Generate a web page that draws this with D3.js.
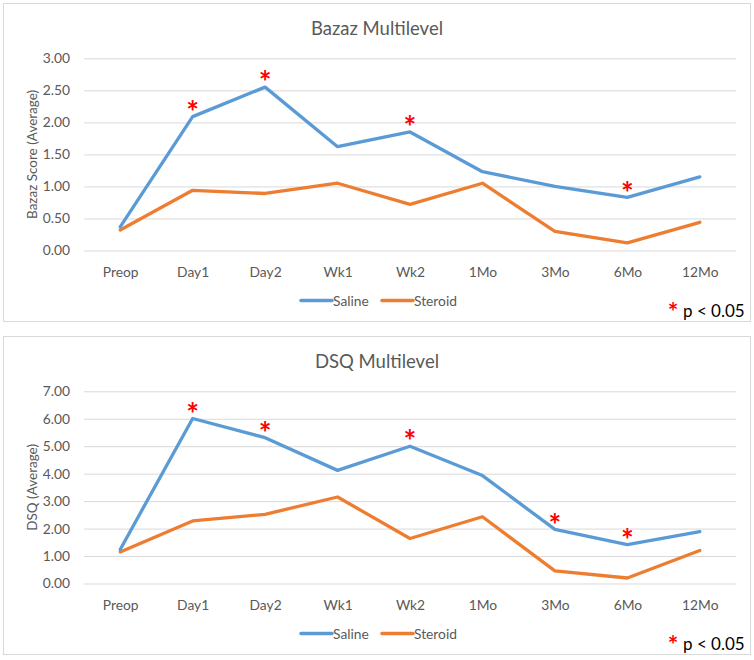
<!DOCTYPE html>
<html>
<head>
<meta charset="utf-8">
<script src="https://cdn.jsdelivr.net/npm/d3@7"></script>
<style>
  html, body { margin: 0; padding: 0; background: #fff; }
  svg { display: block; }
  text { font-family: Lato, "Open Sans", sans-serif; }
</style>
</head>
<body>
<svg id="chart" width="754" height="660"></svg>
<script>
// ---- data ----
const categories = ["Preop", "Day1", "Day2", "Wk1", "Wk2", "1Mo", "3Mo", "6Mo", "12Mo"];
const seriesNames = ["Saline", "Steroid"];

const bazazSaline  = [0.37, 2.09, 2.55, 1.62, 1.85, 1.23, 1.00, 0.83, 1.15];
const bazazSteroid = [0.32, 0.94, 0.89, 1.05, 0.72, 1.05, 0.30, 0.12, 0.44];
const bazazSig = ["Day1", "Day2", "Wk2", "6Mo"];
const bazazTicks = [0, 0.5, 1, 1.5, 2, 2.5, 3];

const dsqSaline  = [1.24, 6.01, 5.31, 4.12, 5.00, 3.93, 1.97, 1.42, 1.89];
const dsqSteroid = [1.15, 2.28, 2.52, 3.15, 1.64, 2.43, 0.46, 0.20, 1.20];
const dsqSig = ["Day1", "Day2", "Wk2", "3Mo", "6Mo"];
const dsqTicks = [0, 1, 2, 3, 4, 5, 6, 7];

const colors = { Saline: "#5b9bd5", Steroid: "#ed7d31" };

const panels = [
  { top: 3,   title: "Bazaz Multilevel", yTitle: "Bazaz Score (Average)", saline: bazazSaline, steroid: bazazSteroid, sig: bazazSig, ticks: bazazTicks },
  { top: 336, title: "DSQ Multilevel",   yTitle: "DSQ (Average)",         saline: dsqSaline,   steroid: dsqSteroid,   sig: dsqSig,   ticks: dsqTicks }
];

const svg = d3.select("#chart");
const textColor = "#595959";
const labelSize = 13.8;

panels.forEach(p => {
  const g = svg.append("g").attr("transform", `translate(0,${p.top})`);

  // panel border
  g.append("rect")
    .attr("x", 3.5).attr("y", 0.5)
    .attr("width", 747).attr("height", 318)
    .attr("fill", "#fff").attr("stroke", "#d9d9d9").attr("stroke-width", 1);

  // title
  g.append("text")
    .attr("x", 377).attr("y", 25)
    .attr("text-anchor", "middle").attr("dominant-baseline", "central")
    .attr("fill", textColor).attr("font-size", 18.5)
    .text(p.title);

  const x = d3.scalePoint().domain(categories).range([84, 736]).padding(0.5);
  const yMax = p.ticks[p.ticks.length - 1];
  const y = d3.scaleLinear().domain([0, yMax]).range([247.5, 55.3]);

  // gridlines + y tick labels via axis
  const yAxis = d3.axisLeft(y).tickValues(p.ticks).tickFormat(d3.format(".2f")).tickSize(-652).tickPadding(14);
  const ya = g.append("g").attr("transform", "translate(84,0)").call(yAxis);
  ya.select(".domain").remove();
  ya.selectAll(".tick line").attr("stroke", "#d9d9d9").attr("stroke-width", 1);
  ya.selectAll(".tick text").attr("fill", textColor).attr("font-size", labelSize)
    .attr("font-family", "Lato, sans-serif").attr("x", -14);

  // x axis labels
  const xAxis = d3.axisBottom(x).tickSize(0).tickPadding(0);
  const xa = g.append("g").attr("transform", "translate(0,268.7)").call(xAxis);
  xa.select(".domain").remove();
  xa.selectAll(".tick text").attr("fill", textColor).attr("font-size", labelSize)
    .attr("font-family", "Lato, sans-serif").attr("dy", "0.35em").attr("y", 0);

  // y axis title
  g.append("text")
    .attr("transform", `translate(32,${(55.3 + 247.5) / 2}) rotate(-90)`)
    .attr("text-anchor", "middle").attr("dominant-baseline", "central")
    .attr("fill", textColor).attr("font-size", 13.5)
    .text(p.yTitle);

  // lines
  const line = d3.line().x((d, i) => x(categories[i])).y(d => y(d));
  [["Steroid", p.steroid], ["Saline", p.saline]].forEach(([name, vals]) => {
    g.append("path").datum(vals)
      .attr("d", line)
      .attr("fill", "none")
      .attr("stroke", colors[name])
      .attr("stroke-width", 3.3)
      .attr("stroke-linejoin", "round")
      .attr("stroke-linecap", "round");
  });

  // significance asterisks
  const astSize = 30;
  p.sig.forEach(c => {
    const i = categories.indexOf(c);
    const cy = y(p.saline[i]) - 11;
    g.append("text")
      .attr("x", x(c)).attr("y", cy + astSize * 0.575)
      .attr("text-anchor", "middle")
      .attr("fill", "#ff0000")
      .attr("font-family", "Liberation Sans, Arial, sans-serif")
      .attr("font-weight", "bold")
      .attr("font-size", astSize)
      .text("*");
  });

  // legend
  const legend = g.append("g").attr("transform", "translate(0,297.5)");
  const legendItems = [{ name: "Saline", x0: 301 }, { name: "Steroid", x0: 382 }];
  legendItems.forEach(it => {
    legend.append("line")
      .attr("x1", it.x0).attr("x2", it.x0 + 31).attr("y1", 0).attr("y2", 0)
      .attr("stroke", colors[it.name]).attr("stroke-width", 3.5).attr("stroke-linecap", "round");
    legend.append("text")
      .attr("x", it.x0 + 32).attr("y", 0)
      .attr("dominant-baseline", "central")
      .attr("fill", textColor).attr("font-size", labelSize)
      .text(it.name);
  });

  // p < 0.05 note
  const noteAst = 25;
  g.append("text")
    .attr("x", 673).attr("y", 303.5 + noteAst * 0.575)
    .attr("text-anchor", "middle")
    .attr("fill", "#ff0000")
    .attr("font-family", "Liberation Sans, Arial, sans-serif")
    .attr("font-weight", "bold")
    .attr("font-size", noteAst)
    .text("*");
  g.append("text")
    .attr("x", 683).attr("y", 313.8)
    .attr("fill", "#000")
    .attr("font-family", "Liberation Sans, Arial, sans-serif")
    .attr("font-size", 17)
    .text("p < 0.05");
});
</script>
</body>
</html>
